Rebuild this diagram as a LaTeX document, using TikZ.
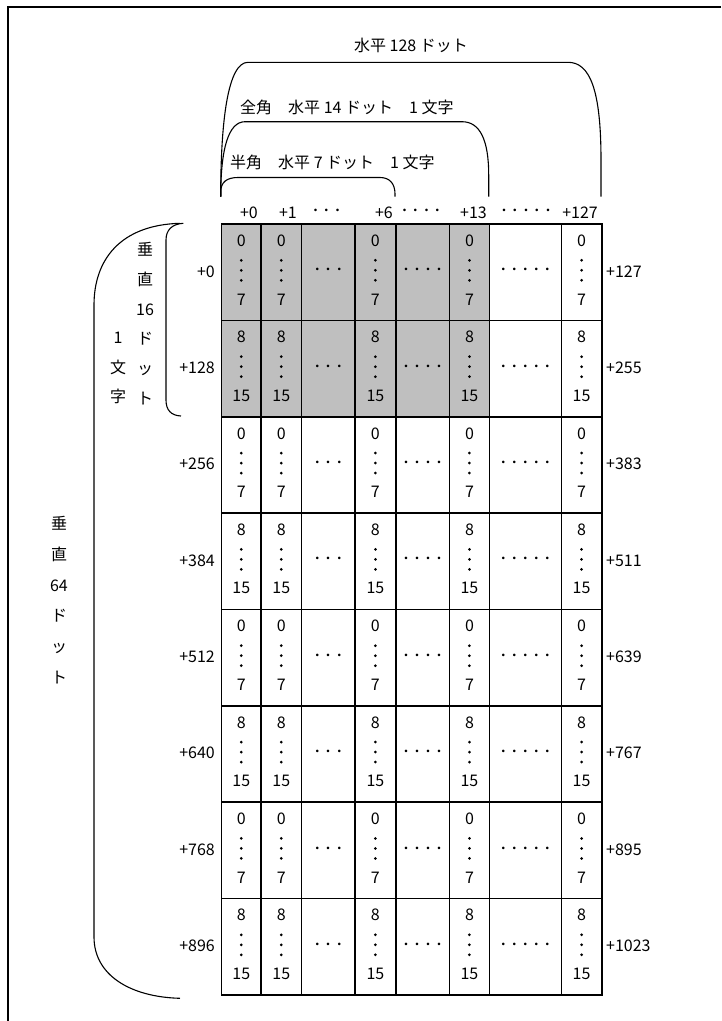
\documentclass[tikz,border=0pt]{standalone}
\usepackage{fontspec}
\setmainfont{Noto Sans CJK JP}
\newcommand{\fsz}{\fontsize{16}{19}\selectfont}
\newcommand{\hdots}[1]{\foreach \i in {1,...,#1}{\ifnum\i>1\kern3pt\fi ･}}
\begin{document}
\begin{tikzpicture}[x=1pt,y=-1pt,
  every node/.style={inner sep=0pt, font=\fsz},
  cellbox/.style={draw, line width=1.5pt, anchor=north west, minimum height=96.35pt},
  shaded/.style={fill=black!25},
  bracket/.style={line width=1.1pt},
  frameline/.style={line width=2pt},
  vlabel/.style={align=center},
  vdot/.style={fill=black}
]
\useasboundingbox (0,0) rectangle (721,1021);
\draw[frameline] (721,6.5) -- (7.5,6.5) -- (7.5,1021);

% grid
\foreach \r in {1,...,8}{
  \pgfmathsetmacro\yt{223.3+96.35*(\r-1)}
  \pgfmathtruncatemacro\odd{mod(\r,2)}
  \pgfmathtruncatemacro\lnum{128*(\r-1)}
  \pgfmathtruncatemacro\rnum{128*\r-1}
  \ifnum\odd=1 \def\tn{0}\def\bn{7}\else\def\tn{8}\def\bn{15}\fi
  \foreach \c/\xl/\xr/\nd in {1/220.7/260.3/0, 2/260.3/300.7/0, 3/300.7/354.3/3, 4/354.3/395/0, 5/395/448.7/4, 6/448.7/488.7/0, 7/488.7/560.7/5, 8/560.7/601/0}{
    \pgfmathtruncatemacro\sh{(\r<3)&&(\c<7)}
    \ifnum\sh=1
      \node[cellbox, shaded, minimum width={\xr-\xl}] (cell-\r-\c) at (\xl,\yt) {};
    \else
      \node[cellbox, minimum width={\xr-\xl}] (cell-\r-\c) at (\xl,\yt) {};
    \fi
    \ifnum\nd=0
      \node (top-\r-\c) at ([yshift=-17.5pt]cell-\r-\c.north) {\tn};
      \foreach \dy in {37,47,57}{
        \fill[vdot] ([yshift=-\dy pt]cell-\r-\c.north) circle[radius=1.5pt];
      }
      \node (bot-\r-\c) at ([yshift=-76pt]cell-\r-\c.north) {\bn};
    \else
      \node (txt-\r-\c) at (cell-\r-\c.center) {\hdots{\nd}};
    \fi
  }
  \node[anchor=east] (rl-\r) at (215,\yt+48.2) {+\lnum};
  \node[anchor=west] (rr-\r) at (606,\yt+48.2) {+\rnum};
}

% header
\node[anchor=east] (h0) at (258,213) {+0};
\node[anchor=east] (h1) at (297,213) {+1};
\node (hd3) at (326.5,213) {\hdots{3}};
\node[anchor=east] (h6) at (393,213) {+6};
\node (hd4) at (421,213) {\hdots{4}};
\node[anchor=east] (h13) at (487,213) {+13};
\node (hd5) at (526,213) {\hdots{5}};
\node[anchor=east] (h127) at (598,213) {+127};

% top brackets
\draw[bracket] (220.7,196.7) -- (220.7,192) .. controls (220.7,182) and (227,177.5) .. (238,177.5) -- (380,177.5) .. controls (390,177.5) and (395,184) .. (395,194) -- (395,196.7);
\draw[bracket] (220.7,196.7) .. controls (220.7,150) and (228,121.7) .. (245,121.7) -- (462,121.7) .. controls (480,121.7) and (488.7,140) .. (488.7,175) -- (488.7,196.7);
\draw[bracket] (220.7,196.7) .. controls (220.7,120) and (228,62.3) .. (248,62.3) -- (568,62.3) .. controls (590,62.3) and (601,90) .. (601,160) -- (601,196.7);

\node (t128) at (411,45) {水平 128 ドット};
\node[anchor=west] (t14) at (240,107) {全角　水平 14 ドット　1 文字};
\node[anchor=west] (t7) at (230,162) {半角　水平 7 ドット　1 文字};

% left brackets
\draw[bracket] (183.3,223.3) .. controls (172,224) and (166,230) .. (166,240) -- (166,400) .. controls (166,410) and (171,415.5) .. (181,416);
\draw[bracket] (180,223.3) .. controls (120,225) and (94,260) .. (94,305) -- (94,937) .. controls (94,975) and (130,997) .. (180,998.3);

\node[vlabel, font=\fontsize{16}{29.8}\selectfont] (v16) at (145,323.5) {垂\\直\\16\\ド\\ッ\\ト};
\node[vlabel, font=\fontsize{16}{29.8}\selectfont] (v1) at (118,368) {1\\文\\字};
\node[vlabel, font=\fontsize{16}{30.8}\selectfont] (v64) at (59,600) {垂\\直\\64\\ド\\ッ\\ト};
\end{tikzpicture}
\end{document}
